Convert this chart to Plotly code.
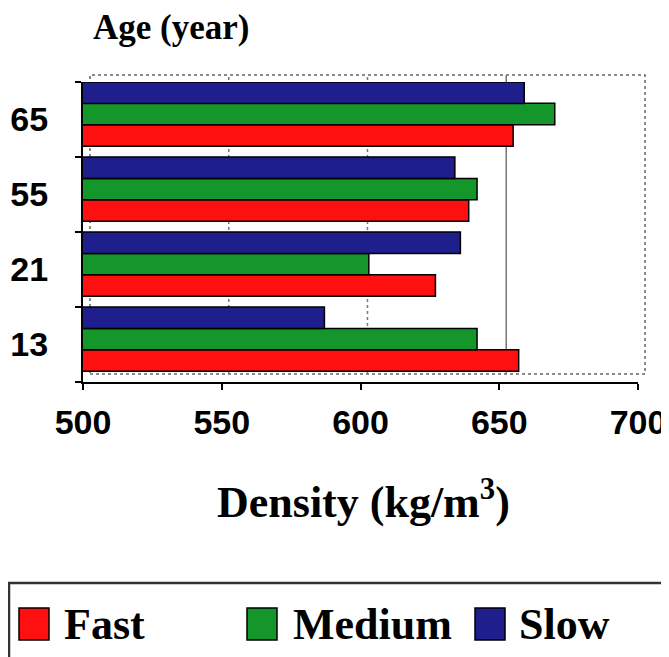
import plotly.graph_objects as go

ages = ["13", "21", "55", "65"]
series_names = ["Fast", "Medium", "Slow"]
fast = [657, 627, 639, 655]
medium = [642, 603, 642, 670]
slow = [587, 636, 634, 659]
series_values = [fast, medium, slow]
colors = ["#ff1010", "#14962a", "#1e1e8c"]
x_ticks = [500, 550, 600, 650, 700]

# page draws the figure 8px in from the window's top-left corner
OFF = 8
W, H = 669 - OFF, 657 - OFF
def px(x):
    return (x - OFF) / W
def py(y):
    return 1 - (y - OFF) / H

BAR_W = 0.285
offsets = [-0.355, -0.07, 0.215]

fig = go.Figure()
for name, vals, col, off in zip(series_names, series_values, colors, offsets):
    fig.add_trace(go.Bar(
        y=ages, x=vals, name=name, orientation="h",
        width=BAR_W, offset=off,
        marker=dict(color=col, line=dict(color="black", width=1.5)),
        showlegend=False,
    ))

ax_font = dict(family="Liberation Sans", size=34, color="black", weight="bold")
serif = "Liberation Serif"

shapes = []
# back wall frame (3D look)
shapes.append(dict(type="rect", xref="paper", yref="paper",
                   x0=px(90), x1=px(645), y0=py(374), y1=py(75),
                   line=dict(color="#666666", width=1.5, dash="dot"), layer="below"))
# gridlines on the back wall
for v in x_ticks[1:-1]:
    shapes.append(dict(type="line", xref="x", xsizemode="pixel", xanchor=v, x0=7, x1=7,
                       yref="paper", y0=py(374), y1=py(75), layer="below",
                       line=dict(color="#777777", width=1.5,
                                 dash="solid" if v == 650 else "dot")))
# legend box
shapes.append(dict(type="rect", xref="paper", yref="paper",
                   x0=px(9), x1=px(700), y0=py(700), y1=py(583),
                   line=dict(color="#333333", width=2.5)))

annotations = [
    dict(text="Age (year)", xref="paper", yref="paper", x=px(91), y=py(27),
         xanchor="left", yanchor="middle", showarrow=False,
         font=dict(family=serif, size=35, color="black", weight="bold")),
    dict(text="Density (kg/m<sup>3</sup>)", xref="paper", yref="paper", x=px(363), y=py(499),
         xanchor="center", yanchor="middle", showarrow=False,
         font=dict(family=serif, size=44, color="black", weight="bold")),
]

leg_sq_x = [19, 247, 475]
leg_tx_x = [62, 291, 517]
for name, col, sx, tx in zip(series_names, colors, leg_sq_x, leg_tx_x):
    shapes.append(dict(type="rect", xref="paper", yref="paper",
                       x0=px(sx), x1=px(sx + 30), y0=py(640), y1=py(608),
                       fillcolor=col, line=dict(color="black", width=1.5)))
    annotations.append(dict(text=name, xref="paper", yref="paper", x=px(tx), y=py(624),
                            xanchor="left", yanchor="middle", showarrow=False,
                            font=dict(family=serif, size=44, color="black", weight="bold")))

fig.update_layout(
    width=W, height=H,
    margin=dict(l=0, r=0, t=0, b=0, pad=0, autoexpand=False),
    paper_bgcolor="white", plot_bgcolor="rgba(0,0,0,0)",
    barmode="overlay",
    shapes=shapes, annotations=annotations,
    xaxis=dict(domain=[px(83), px(638)], range=[500, 700], automargin=False,
               tickvals=x_ticks, ticktext=[str(v) for v in x_ticks],
               showline=True, linecolor="black", linewidth=2,
               ticks="outside", ticklen=6, tickcolor="black", tickwidth=1.5,
               showgrid=False,
               tickfont=ax_font, ticklabelstandoff=3, zeroline=False),
    yaxis=dict(domain=[py(382), py(82)], categoryorder="array", categoryarray=ages,
               range=[-0.5, 3.5], automargin=False,
               showline=True, linecolor="black", linewidth=2,
               ticks="outside", ticklen=6, tickcolor="black", tickwidth=1.5,
               tickson="boundaries", showgrid=False,
               tickfont=ax_font, ticklabelstandoff=26),
)

fig.write_html("out.html")
